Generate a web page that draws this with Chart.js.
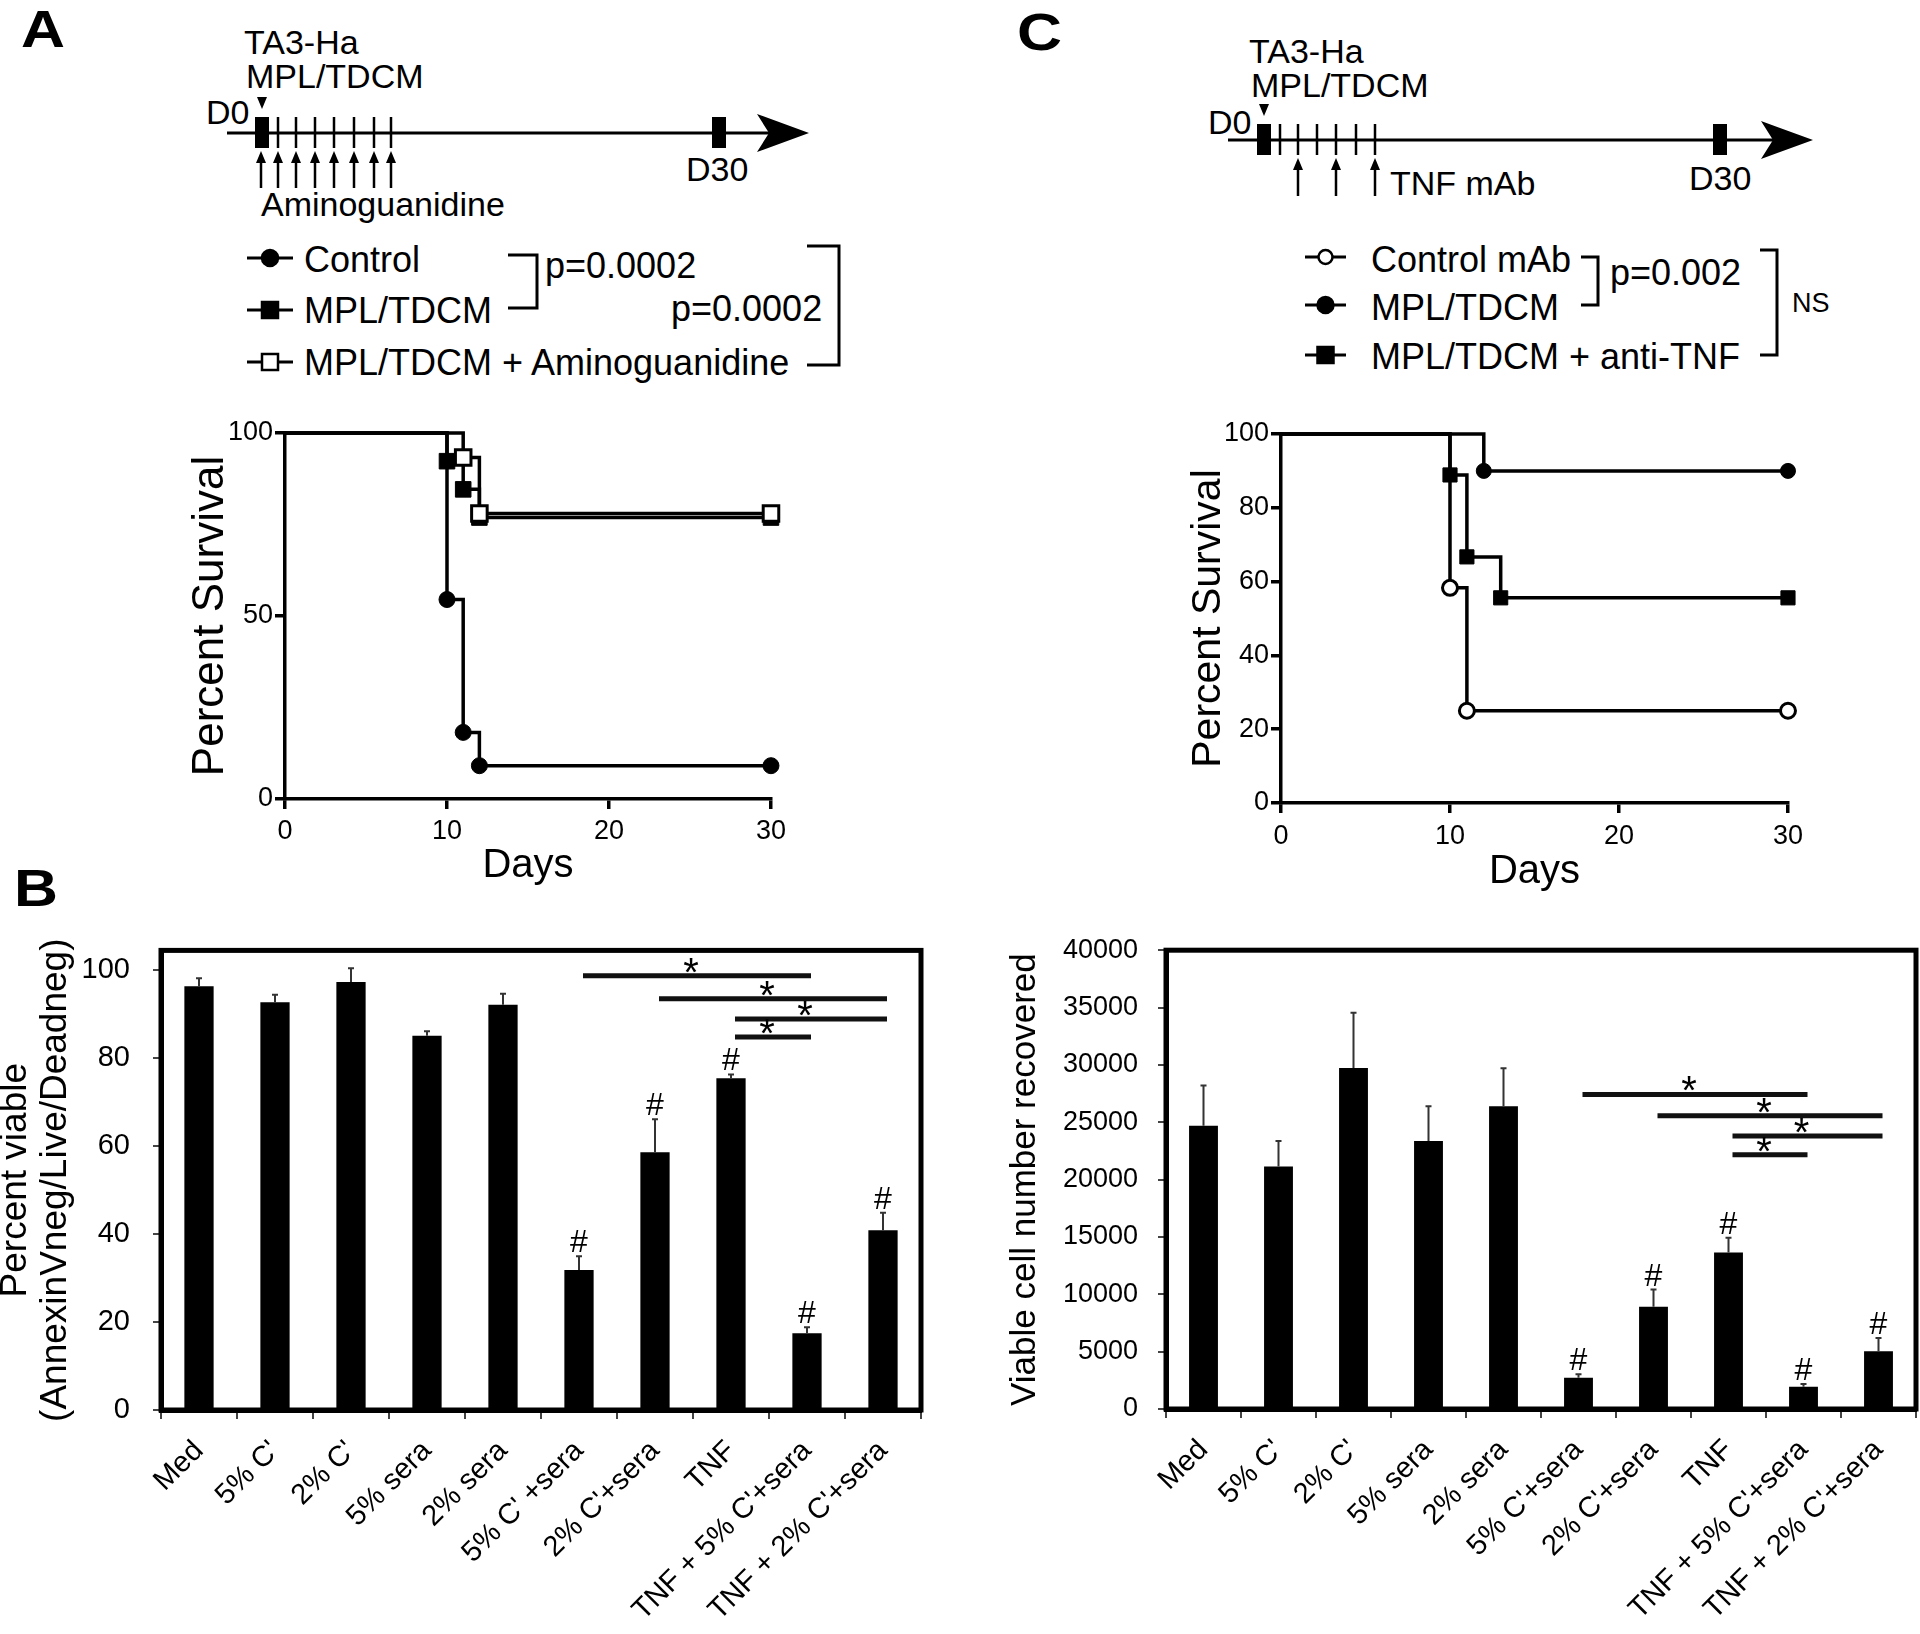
<!DOCTYPE html>
<html>
<head>
<meta charset="utf-8">
<title>Survival and viability</title>
<script src="https://cdn.jsdelivr.net/npm/chart.js@4.4.1/dist/chart.umd.min.js"></script>
<style>
  html, body { margin: 0; padding: 0; background: #fff; }
  body { position: relative; width: 1920px; height: 1634px; overflow: hidden; }
  #sketch { position: absolute; left: 0; top: 0; }
  canvas { position: absolute; }
</style>
</head>
<body>
<svg id="sketch" width="1920" height="1634" font-family="'Liberation Sans', Arial, sans-serif"></svg>
<canvas id="kmA" width="612" height="486" style="left:180px;top:413px"></canvas>
<canvas id="kmC" width="632" height="489" style="left:1178px;top:414px"></canvas>
<canvas id="barB" width="935" height="724" style="left:-4px;top:910px"></canvas>
<canvas id="barD" width="919" height="720" style="left:1000px;top:914px"></canvas>
<script>
/* ---------- data ---------- */
// Panel A: Kaplan-Meier steps (day, percent survival)
var kmA_days_control = [0, 10, 11, 12, 30];
var kmA_surv_control = [100, 54.5, 18.2, 9.1, 9.1];
var kmA_days_mpl = [0, 10, 11, 12, 30];
var kmA_surv_mpl = [100, 92.3, 84.6, 76.9, 76.9];
var kmA_days_amg = [0, 11, 12, 30];
var kmA_surv_amg = [100, 93.3, 78, 78];

// Panel C
var kmC_days_ctrlmab = [0, 10, 11, 30];
var kmC_surv_ctrlmab = [100, 58.3, 25, 25];
var kmC_days_mpl = [0, 12, 30];
var kmC_surv_mpl = [100, 90, 90];
var kmC_days_antitnf = [0, 10, 11, 13, 30];
var kmC_surv_antitnf = [100, 88.9, 66.7, 55.6, 55.6];

var dayTicks = [0, 10, 20, 30];
var kmA_yTicks = [0, 50, 100];
var kmC_yTicks = [0, 20, 40, 60, 80, 100];

// Panel B: percent viable
var treatmentsB = ['Med', "5% C'", "2% C'", '5% sera', '2% sera', "5% C' +sera", "2% C'+sera", 'TNF', "TNF + 5% C'+sera", "TNF + 2% C'+sera"];
var viableB = [96.2, 92.6, 97.2, 85.0, 92.0, 31.8, 58.5, 75.3, 17.4, 40.8];
var viableSemB = [1.8, 1.7, 3.1, 1.0, 2.5, 3.1, 7.5, 0.9, 1.4, 4.0];
var yTicksB = [0, 20, 40, 60, 80, 100];

// Panel D: viable cell number recovered
var treatmentsD = ['Med', "5% C'", "2% C'", '5% sera', '2% sera', "5% C'+sera", "2% C'+sera", 'TNF', "TNF + 5% C'+sera", "TNF + 2% C'+sera"];
var countD = [24690, 21150, 29740, 23370, 26400, 2730, 8910, 13650, 1950, 5040];
var countSemD = [3510, 2220, 4800, 3030, 3310, 300, 1500, 1290, 240, 1140];
var yTicksD = [0, 5000, 10000, 15000, 20000, 25000, 30000, 35000, 40000];

// '#' marks and '*' comparisons (bar index from, to, height)
var hashBars = [5, 6, 7, 8, 9];
var sigFrom = [5, 6, 7, 7];
var sigTo = [8, 9, 9, 8];
var sigLevelB = [98.6, 93.4, 88.8, 84.7];
var sigLevelD = [27420, 25560, 23810, 22160];

/* ---------- schematic drawings (timelines + legends) ---------- */
var svg = document.getElementById('sketch');
var NS = 'http://www.w3.org/2000/svg';

function el(tag, attrs, text) {
  var e = document.createElementNS(NS, tag);
  for (var k in attrs) e.setAttribute(k, attrs[k]);
  if (text) e.textContent = text;
  svg.appendChild(e);
  return e;
}

function txt(x, y, s, size, bold, len) {
  var a = { x: x, y: y, 'font-size': size, fill: '#000' };
  if (bold) a['font-weight'] = 'bold';
  if (len) { a.textLength = len; a.lengthAdjust = 'spacingAndGlyphs'; }
  return el('text', a, s);
}

function upArrow(x, yBottom, yTip) {
  el('line', { x1: x, y1: yBottom, x2: x, y2: yTip + 8, stroke: '#000', 'stroke-width': 2.5 });
  el('polygon', { points: (x - 5) + ',' + (yTip + 12) + ' ' + (x + 5) + ',' + (yTip + 12) + ' ' + x + ',' + yTip, fill: '#000' });
}

function timeline(o) {
  el('line', { x1: o.x0, y1: o.y, x2: o.tip - 40, y2: o.y, stroke: '#000', 'stroke-width': 3 });
  el('path', { d: 'M' + o.tip + ' ' + o.y + ' L' + (o.tip - 52) + ' ' + (o.y - 19) + ' L' + (o.tip - 40) + ' ' + o.y +
               ' L' + (o.tip - 52) + ' ' + (o.y + 19) + ' Z', fill: '#000' });
  el('rect', { x: o.d0, y: o.y - 16, width: 14, height: 31, fill: '#000' });
  el('rect', { x: o.d30, y: o.y - 16, width: 14, height: 31, fill: '#000' });
  o.ticks.forEach(function(x) {
    el('line', { x1: x, y1: o.y - 16, x2: x, y2: o.y + 15, stroke: '#000', 'stroke-width': 2.5 });
  });
  var t = o.d0 + 7;
  el('polygon', { points: (t - 5) + ',' + (o.y - 36) + ' ' + (t + 5) + ',' + (o.y - 36) + ' ' + t + ',' + (o.y - 24), fill: '#000' });
  o.arrows.forEach(function(x) { upArrow(x, o.arrowBottom, o.arrowTip); });
}

function legendRow(x1, x2, y, marker, filled) {
  el('line', { x1: x1, y1: y, x2: x2, y2: y, stroke: '#000', 'stroke-width': 3 });
  var cx = (x1 + x2) / 2;
  var fill = filled ? '#000' : '#fff';
  if (marker === 'circle') {
    el('circle', { cx: cx, cy: y, r: filled ? 8 : 7, fill: fill, stroke: '#000', 'stroke-width': 2.5 });
  } else {
    el('rect', { x: cx - 8, y: y - 8, width: 16, height: 16, fill: fill, stroke: '#000', 'stroke-width': 2.5 });
  }
}

function bracket(xa, xb, ya, yb) {
  el('polyline', { points: xa + ',' + ya + ' ' + xb + ',' + ya + ' ' + xb + ',' + yb + ' ' + xa + ',' + yb,
                   fill: 'none', stroke: '#000', 'stroke-width': 3 });
}

/* Panel letters */
txt(21, 47, 'A', 52, true, 44);
txt(14, 906, 'B', 52, true, 44);
txt(1017, 50, 'C', 52, true, 45);

/* Panel A schedule */
timeline({ x0: 227, tip: 809, y: 133, d0: 255, d30: 712,
           ticks: [278, 296, 315, 334, 354, 374, 391],
           arrows: [261, 278, 296, 315, 334, 354, 374, 391], arrowBottom: 188, arrowTip: 151 });
txt(244, 54, 'TA3-Ha', 34);
txt(246, 88, 'MPL/TDCM', 34);
txt(206, 124, 'D0', 34);
txt(686, 181, 'D30', 34);
txt(261, 216, 'Aminoguanidine', 34);

legendRow(247, 293, 258, 'circle', true);
txt(304, 272, 'Control', 36);
legendRow(247, 293, 310, 'square', true);
txt(304, 323, 'MPL/TDCM', 36);
legendRow(247, 293, 362, 'square', false);
txt(304, 375, 'MPL/TDCM + Aminoguanidine', 36);
bracket(508, 537, 255, 308);
txt(545, 278, 'p=0.0002', 36);
bracket(807, 839, 246, 365);
txt(671, 321, 'p=0.0002', 36);

/* Panel C schedule */
timeline({ x0: 1228, tip: 1813, y: 140, d0: 1257, d30: 1713,
           ticks: [1280, 1298, 1317, 1336, 1356, 1375],
           arrows: [1298, 1336, 1375], arrowBottom: 196, arrowTip: 158 });
txt(1249, 63, 'TA3-Ha', 34);
txt(1251, 97, 'MPL/TDCM', 34);
txt(1208, 134, 'D0', 34);
txt(1390, 195, 'TNF mAb', 34);
txt(1689, 190, 'D30', 34);

legendRow(1305, 1346, 257, 'circle', false);
txt(1371, 272, 'Control mAb', 36);
legendRow(1305, 1346, 305, 'circle', true);
txt(1371, 320, 'MPL/TDCM', 36);
legendRow(1305, 1346, 355, 'square', true);
txt(1371, 369, 'MPL/TDCM + anti-TNF', 36);
bracket(1581, 1598, 257, 305);
txt(1610, 285, 'p=0.002', 36);
bracket(1760, 1777, 250, 355);
txt(1792, 312, 'NS', 27);

/* ---------- charts ---------- */
Chart.defaults.font.family = "'Liberation Sans', Arial, sans-serif";
Chart.defaults.color = '#000';

function tickSetter(values) {
  return function(scale) { scale.ticks = values.map(function(v) { return { value: v }; }); };
}

function kmSet(days, surv, style, filled, radius) {
  return {
    data: days.map(function(d, i) { return { x: d, y: surv[i] }; }),
    stepped: 'before',
    borderColor: '#000',
    borderWidth: 3.5,
    fill: false,
    clip: false,
    pointStyle: style,
    pointBackgroundColor: filled ? '#000' : '#fff',
    pointBorderColor: '#000',
    pointBorderWidth: filled ? 1 : 3,
    pointRadius: days.map(function(d, i) { return i === 0 ? 0 : radius; })
  };
}

function kmChart(id, sets, yTicks, opt) {
  return new Chart(document.getElementById(id), {
    type: 'line',
    data: { datasets: sets },
    options: {
      responsive: false,
      animation: false,
      events: [],
      layout: { padding: { left: 0, top: 20, right: 20, bottom: 0 } },
      plugins: { legend: { display: false }, tooltip: { enabled: false } },
      scales: {
        x: {
          type: 'linear', min: 0, max: 30,
          afterBuildTicks: tickSetter(dayTicks),
          afterFit: function(s) { s.height = 100; },
          ticks: { font: { size: 27 }, padding: opt.xPad },
          grid: { drawOnChartArea: false, tickLength: 10, lineWidth: 3.5, color: '#000' },
          border: { display: true, width: 3.5, color: '#000' },
          title: { display: true, text: 'Days', font: { size: 40 }, padding: { top: 0, bottom: opt.daysPad } }
        },
        y: {
          min: 0, max: 100,
          afterBuildTicks: tickSetter(yTicks),
          afterFit: function(s) { s.width = opt.yWidth; },
          ticks: { font: { size: 27 }, padding: 2 },
          grid: { drawOnChartArea: false, tickLength: 10, lineWidth: 3.5, color: '#000' },
          border: { display: true, width: 3.5, color: '#000' },
          title: { display: true, text: 'Percent Survival', font: { size: opt.titleSize }, padding: { top: opt.titlePad, bottom: 0 } }
        }
      }
    }
  });
}

kmChart('kmA', [
  kmSet(kmA_days_amg, kmA_surv_amg, 'rect', false, 11),
  kmSet(kmA_days_mpl, kmA_surv_mpl, 'rect', true, 11),
  kmSet(kmA_days_control, kmA_surv_control, 'circle', true, 8)
], kmA_yTicks, { yWidth: 105, titleSize: 44, titlePad: 4, xPad: 6, daysPad: 9 });

kmChart('kmC', [
  kmSet(kmC_days_ctrlmab, kmC_surv_ctrlmab, 'circle', false, 7.5),
  kmSet(kmC_days_mpl, kmC_surv_mpl, 'circle', true, 7.5),
  kmSet(kmC_days_antitnf, kmC_surv_antitnf, 'rect', true, 10)
], kmC_yTicks, { yWidth: 103, titleSize: 41, titlePad: 6, xPad: 7, daysPad: 7 });

/* error bars, '#', '*' comparisons and the box frame */
var barMarks = {
  id: 'barMarks',
  afterDatasetsDraw: function(chart, args, opts) {
    var ctx = chart.ctx, y = chart.scales.y, area = chart.chartArea;
    var bars = chart.getDatasetMeta(0).data;
    var vals = chart.data.datasets[0].data;
    ctx.save();

    ctx.strokeStyle = '#333';
    ctx.lineWidth = 2;
    bars.forEach(function(bar, i) {
      var top = y.getPixelForValue(vals[i] + opts.sem[i]);
      ctx.beginPath();
      ctx.moveTo(bar.x, bar.y);
      ctx.lineTo(bar.x, top);
      ctx.moveTo(bar.x - 3, top);
      ctx.lineTo(bar.x + 3, top);
      ctx.stroke();
    });

    ctx.fillStyle = '#000';
    ctx.textAlign = 'center';
    ctx.textBaseline = 'alphabetic';
    ctx.font = "32px 'Liberation Sans', Arial, sans-serif";
    hashBars.forEach(function(i) {
      ctx.fillText('#', bars[i].x, y.getPixelForValue(vals[i] + opts.sem[i]) - 4);
    });

    ctx.strokeStyle = '#111';
    ctx.lineWidth = 5;
    ctx.font = "40px 'Liberation Sans', Arial, sans-serif";
    sigFrom.forEach(function(a, k) {
      var x1 = bars[a].x + 4, x2 = bars[sigTo[k]].x + 4;
      var ly = y.getPixelForValue(opts.levels[k]);
      ctx.beginPath();
      ctx.moveTo(x1, ly);
      ctx.lineTo(x2, ly);
      ctx.stroke();
      ctx.fillText('*', (x1 + x2) / 2 - 6, ly + 10);
    });

    ctx.strokeStyle = '#000';
    ctx.lineWidth = 5;
    ctx.strokeRect(area.left, area.top, area.right - area.left, area.bottom - area.top);
    ctx.restore();
  }
};

function barChart(id, labels, values, sem, levels, yTicks, yMax, opt) {
  return new Chart(document.getElementById(id), {
    type: 'bar',
    data: {
      labels: labels,
      datasets: [{ data: values, backgroundColor: '#000', borderWidth: 0, barPercentage: 0.385, categoryPercentage: 1 }]
    },
    plugins: [barMarks],
    options: {
      responsive: false,
      animation: false,
      events: [],
      layout: { padding: { left: 0, top: 20, right: opt.padRight, bottom: 0 } },
      plugins: {
        legend: { display: false },
        tooltip: { enabled: false },
        barMarks: { sem: sem, levels: levels }
      },
      scales: {
        x: {
          afterFit: function(s) { s.height = opt.xHeight; },
          ticks: { font: { size: 29 }, minRotation: 45, maxRotation: 45, autoSkip: false, padding: 15 },
          grid: { drawOnChartArea: false, offset: true, tickLength: 9, lineWidth: 2, color: '#444' },
          border: { display: true, width: 5, color: '#000' }
        },
        y: {
          min: 0, max: yMax,
          afterBuildTicks: tickSetter(yTicks),
          afterFit: function(s) { s.width = opt.yWidth; },
          ticks: { font: { size: opt.tickSize }, padding: opt.yPad, callback: function(v) { return String(v); } },
          grid: { drawOnChartArea: false, tickLength: 8, lineWidth: 2, color: '#444' },
          border: { display: true, width: 5, color: '#000' },
          title: { display: true, text: opt.title, font: { size: opt.titleSize, lineHeight: '40px' }, padding: { top: opt.titlePad, bottom: 0 } }
        }
      }
    }
  });
}

barChart('barB', treatmentsB, viableB, viableSemB, sigLevelB, yTicksB, 104.35, {
  padRight: 10, xHeight: 224, yWidth: 165, tickSize: 29, yPad: 23,
  title: ['Percent viable', '(AnnexinVneg/Live/Deadneg)'], titleSize: 37, titlePad: 0
});

barChart('barD', treatmentsD, countD, countSemD, sigLevelD, yTicksD, 40000, {
  padRight: 3, xHeight: 225, yWidth: 166, tickSize: 27, yPad: 20,
  title: 'Viable cell number recovered', titleSize: 35, titlePad: 5
});
</script>
</body>
</html>
